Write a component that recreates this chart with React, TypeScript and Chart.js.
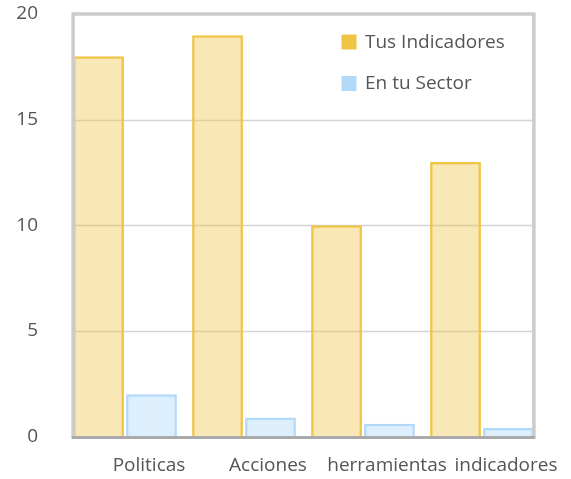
import React, { useEffect, useRef } from "react";
import { Chart, registerables } from "chart.js";

Chart.register(...registerables);

const categories = ["Politicas", "Acciones", "herramientas", "indicadores"];
const tusIndicadores = [18, 19, 10, 13];
const enTuSector = [2, 0.9, 0.6, 0.4];
const seriesNames = ["Tus Indicadores", "En tu Sector"];
const yTicks = [0, 5, 10, 15, 20];

const FONT = "'Open Sans', sans-serif";
const YELLOW = "#f0c445";
const YELLOW_FILL = "rgba(240,196,69,0.4)";
const BLUE = "#b3d9f9";
const BLUE_FILL = "rgba(179,217,249,0.45)";

const framePlugin = {
  id: "frame",
  beforeDatasetsDraw(chart: any) {
    const { ctx } = chart;
    const y = chart.scales.y;
    const m0 = chart.getDatasetMeta(0).data[0];
    const m1 = chart.getDatasetMeta(1).data;
    const last = m1[m1.length - 1];
    const left = m0.x - m0.width / 2;
    const right = last.x + last.width / 2;
    ctx.save();
    ctx.strokeStyle = "#d4d4d4";
    ctx.lineWidth = 1.5;
    yTicks.slice(1, -1).forEach((v) => {
      const py = Math.round(y.getPixelForValue(v)) + 0.5;
      ctx.beginPath();
      ctx.moveTo(left, py);
      ctx.lineTo(right, py);
      ctx.stroke();
    });
    ctx.restore();
  },
  afterDatasetsDraw(chart: any) {
    const { ctx } = chart;
    const y = chart.scales.y;
    const m0 = chart.getDatasetMeta(0).data[0];
    const m1 = chart.getDatasetMeta(1).data;
    const last = m1[m1.length - 1];
    const left = m0.x - m0.width / 2;
    const right = last.x + last.width / 2;
    const top = y.getPixelForValue(yTicks[yTicks.length - 1]);
    const bottom = y.getPixelForValue(0);
    ctx.save();
    ctx.strokeStyle = "#cccccc";
    ctx.lineWidth = 3.5;
    ctx.beginPath();
    ctx.moveTo(left, bottom);
    ctx.lineTo(left, top);
    ctx.lineTo(right, top);
    ctx.lineTo(right, bottom);
    ctx.stroke();
    ctx.strokeStyle = "#aaaaaa";
    ctx.lineWidth = 3;
    ctx.beginPath();
    ctx.moveTo(left - 1.5, bottom + 1);
    ctx.lineTo(right + 1.5, bottom + 1);
    ctx.stroke();
    ctx.restore();
  },
  afterDraw(chart: any) {
    const { ctx } = chart;
    const colors = [YELLOW, BLUE];
    ctx.save();
    ctx.font = `19px ${FONT}`;
    ctx.textBaseline = "middle";
    ctx.textAlign = "left";
    seriesNames.forEach((name, i) => {
      const sy = 34.5 + i * 41.5;
      ctx.fillStyle = colors[i];
      ctx.fillRect(341.5, sy, 15, 15);
      ctx.fillStyle = "#555555";
      ctx.fillText(name, 365, sy + 8);
    });
    ctx.restore();
  },
};

export default function App() {
  const ref = useRef<HTMLCanvasElement | null>(null);
  useEffect(() => {
    if (!ref.current) return;
    const chart = new Chart(ref.current, {
      type: "bar",
      data: {
        labels: categories,
        datasets: [
          {
            label: seriesNames[0],
            data: tusIndicadores,
            backgroundColor: YELLOW_FILL,
            borderColor: YELLOW,
            borderWidth: 2.5,
            barPercentage: 0.96,
            categoryPercentage: 0.89,
          },
          {
            label: seriesNames[1],
            data: enTuSector,
            backgroundColor: BLUE_FILL,
            borderColor: BLUE,
            borderWidth: 2.5,
            barPercentage: 0.96,
            categoryPercentage: 0.89,
          },
        ],
      },
      options: {
        responsive: false,
        animation: false,
        layout: { padding: { top: 14, right: 29.5, left: 0, bottom: 0 } },
        plugins: { legend: { display: false }, tooltip: { enabled: false } },
        scales: {
          x: {
            grid: { display: false },
            border: { display: false },
            ticks: {
              font: { family: FONT, size: 19 },
              color: "#555555",
              labelOffset: 24,
              padding: 10,
              maxRotation: 0,
              autoSkip: false,
            },
            afterFit: (s: any) => {
              s.height = 42.5;
              s.paddingLeft = 0;
              s.paddingRight = 0;
            },
          },
          y: {
            min: 0,
            max: 20,
            grid: { display: false, drawTicks: false },
            border: { display: false },
            ticks: {
              stepSize: 5,
              font: { family: FONT, size: 19 },
              color: "#555555",
              padding: 27.5,
            },
            afterFit: (s: any) => {
              s.width = 65.5;
              s.paddingTop = 0;
              s.paddingBottom = 0;
            },
          },
        },
      },
      plugins: [framePlugin],
    });
    return () => chart.destroy();
  }, []);
  return (
    <div style={{ position: "fixed", left: 0, top: 0, width: 571, height: 479, background: "#fff" }}>
      <canvas ref={ref} width={571} height={479} />
    </div>
  );
}
